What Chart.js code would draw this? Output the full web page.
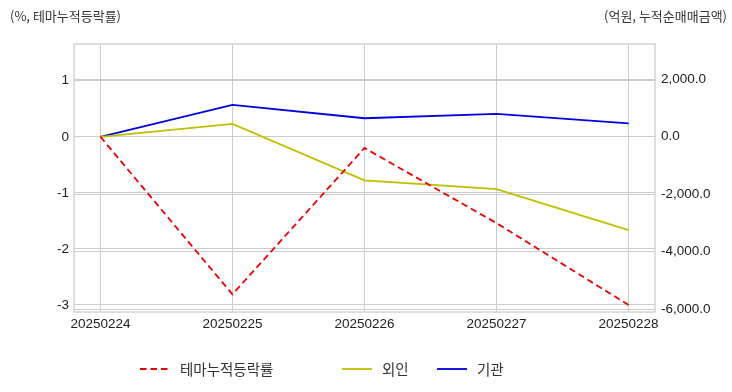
<!DOCTYPE html>
<html>
<head>
<meta charset="utf-8">
<script src="https://cdn.jsdelivr.net/npm/chart.js@4.4.1/dist/chart.umd.min.js"></script>
<style>
  html, body { margin: 0; padding: 0; background: #fff; }
</style>
</head>
<body>
<canvas id="themeChart" width="732" height="392"></canvas>
<script>
// data
var dates = ['20250224', '20250225', '20250226', '20250227', '20250228'];
var themeReturn = [0, -2.81, -0.2, -1.54, -3.0];      // %, left axis
var foreignNet = [0, 446, -1519, -1825, -3250];       // 억원, right axis
var instNet = [0, 1112, 646, 796, 470];               // 억원, right axis
var leftTicks = [1, 0, -1, -2, -3];
var rightTicks = [2000, 0, -2000, -4000, -6000];

var numFont = { family: '"Liberation Sans", Arial, sans-serif', size: 13.5 };
var krFont = '"Noto Sans CJK KR", "Noto Sans", sans-serif';
var gridColor = '#cccccc';

function toPoints(arr) {
    return arr.map(function (v, i) { return { x: i, y: v }; });
}

// frame + titles + legend
var decorPlugin = {
    id: 'decor',
    beforeDatasetsDraw: function (chart) {
        var a = chart.chartArea, ctx = chart.ctx;
        ctx.save();
        ctx.strokeStyle = '#d4d4d4';
        ctx.lineWidth = 1.5;
        ctx.strokeRect(a.left, a.top, a.right - a.left, a.bottom - a.top);
        ctx.restore();
    },
    afterDraw: function (chart) {
        var ctx = chart.ctx;
        ctx.save();
        ctx.fillStyle = '#333';
        ctx.font = '13px ' + krFont;
        ctx.textBaseline = 'middle';
        ctx.textAlign = 'left';
        ctx.fillText('(%, 테마누적등락률)', 10, 16);
        ctx.textAlign = 'right';
        ctx.fillText('(억원, 누적순매매금액)', 727, 16);

        // legend
        var starts = [140, 342, 437];
        var y = 369;
        ctx.font = '14.5px ' + krFont;
        ctx.textAlign = 'left';
        chart.data.datasets.forEach(function (ds, i) {
            var x = starts[i];
            ctx.beginPath();
            ctx.strokeStyle = ds.borderColor;
            ctx.lineWidth = ds.borderWidth;
            ctx.setLineDash(ds.borderDash || []);
            ctx.moveTo(x, y);
            ctx.lineTo(x + 30, y);
            ctx.stroke();
            ctx.setLineDash([]);
            ctx.fillStyle = '#333';
            ctx.fillText(ds.label, x + 40, y);
        });
        ctx.restore();
    }
};

var ctx = document.getElementById('themeChart').getContext('2d');
var themeChart = new Chart(ctx, {
    type: 'line',
    data: {
        datasets: [
            {
                label: '테마누적등락률',
                data: toPoints(themeReturn),
                yAxisID: 'y',
                borderColor: '#ee0000',
                borderWidth: 1.8,
                borderDash: [6.5, 4],
                pointRadius: 0,
                fill: false
            },
            {
                label: '외인',
                data: toPoints(foreignNet),
                yAxisID: 'y1',
                borderColor: '#bfbf00',
                borderWidth: 1.8,
                pointRadius: 0,
                fill: false
            },
            {
                label: '기관',
                data: toPoints(instNet),
                yAxisID: 'y1',
                borderColor: '#0000e0',
                borderWidth: 1.8,
                pointRadius: 0,
                fill: false
            }
        ]
    },
    options: {
        responsive: false,
        animation: false,
        devicePixelRatio: 1,
        layout: { padding: { top: 44, left: 0, right: 0, bottom: 0 } },
        plugins: {
            legend: { display: false },
            tooltip: { enabled: false }
        },
        scales: {
            x: {
                type: 'linear',
                position: 'bottom',
                min: -0.2,
                max: 4.2,
                afterBuildTicks: function (s) {
                    s.ticks = dates.map(function (d, i) { return { value: i }; });
                },
                afterFit: function (s) { s.height = 80; },
                ticks: {
                    callback: function (v) { return dates[v]; },
                    font: numFont,
                    color: '#222',
                    padding: 4,
                    maxRotation: 0,
                    autoSkip: false
                },
                grid: { color: gridColor, drawTicks: false },
                border: { display: false }
            },
            y: {
                position: 'left',
                min: -3.125,
                max: 1.655,
                afterBuildTicks: function (s) {
                    s.ticks = leftTicks.map(function (v) { return { value: v }; });
                },
                afterFit: function (s) { s.width = 74; },
                ticks: {
                    callback: function (v) { return String(v); },
                    font: numFont,
                    color: '#222',
                    padding: 5
                },
                grid: { color: gridColor, drawTicks: false },
                border: { display: false }
            },
            y1: {
                position: 'right',
                min: -6100,
                max: 3230,
                afterBuildTicks: function (s) {
                    s.ticks = rightTicks.map(function (v) { return { value: v }; });
                },
                afterFit: function (s) { s.width = 77; },
                ticks: {
                    callback: function (v) {
                        return v.toLocaleString('en-US', { minimumFractionDigits: 1, maximumFractionDigits: 1 });
                    },
                    font: numFont,
                    color: '#222',
                    padding: 6
                },
                grid: { color: gridColor, drawTicks: false },
                border: { display: false }
            }
        }
    },
    plugins: [decorPlugin]
});
</script>
</body>
</html>
